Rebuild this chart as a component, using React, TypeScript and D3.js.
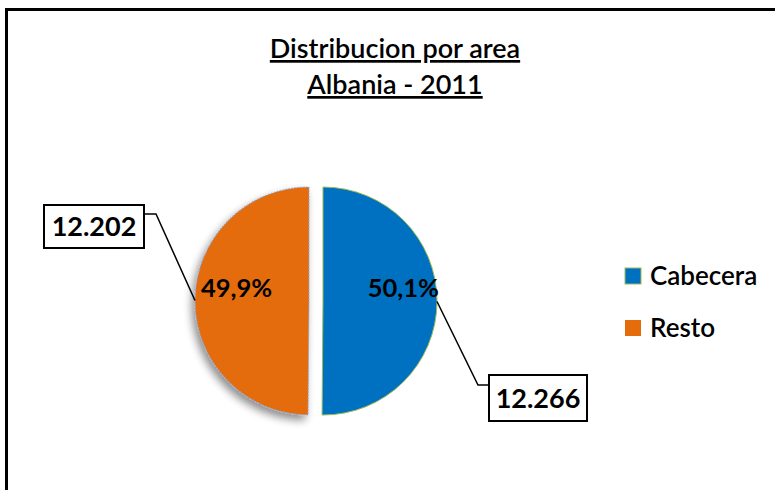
import React from "react";
import * as d3 from "d3";

const categories = ["Cabecera", "Resto"];
const values = [12266, 12202];
const valueLabels = ["12.266", "12.202"];
const colors = ["#0070C0", "#E46C0A"];
const titleLines = ["Distribucion por area", "Albania - 2011"];

const W = 775;
const H = 490;
const FONT = "Lato, 'Open Sans', sans-serif";

export default function App() {
  const cx = 316;
  const cy = 301;
  const r = 114;
  const explode = 7;
  const total = d3.sum(values);
  const pie = d3.pie<number>().sort(null).startAngle(0).endAngle(2 * Math.PI);
  const arcs = pie(values);
  const arcGen = d3.arc<d3.PieArcDatum<number>>().innerRadius(0).outerRadius(r);
  const fmtPct = (v: number) => (Math.round((v / total) * 1000) / 10).toFixed(1).replace(".", ",") + "%";

  const boxes = [
    { x: 489, y: 375, w: 98, h: 46, elbowX: 478, side: 1 },
    { x: 44, y: 205, w: 100, h: 43, elbowX: 156, side: -1 },
  ];

  return (
    <svg width={W} height={H} style={{ position: "absolute", left: 0, top: 0, display: "block" }}>
      <defs>
        <filter id="shadow" x="-30%" y="-30%" width="160%" height="160%">
          <feGaussianBlur in="SourceAlpha" stdDeviation="4" />
          <feOffset dx="-3" dy="5" result="b" />
          <feComponentTransfer>
            <feFuncA type="linear" slope="0.45" />
          </feComponentTransfer>
          <feMerge>
            <feMergeNode />
            <feMergeNode in="SourceGraphic" />
          </feMerge>
        </filter>
      </defs>
      <rect x={0} y={0} width={W} height={H} fill="#fff" />
      <rect x={6.5} y={9.5} width={W + 20} height={H + 20} fill="none" stroke="#000" strokeWidth={3} />

      {titleLines.map((t, i) => (
        <text
          key={t}
          x={395}
          y={58 + i * 36}
          textAnchor="middle"
          fontFamily={FONT}
          fontWeight={600}
          fontSize={27}
          textDecoration="underline"
          fill="#000"
        >
          {t}
        </text>
      ))}

      {arcs.map((a, i) => {
        const mid = (a.startAngle + a.endAngle) / 2;
        const ox = cx + Math.sin(mid) * explode;
        const oy = cy - Math.cos(mid) * explode;
        return (
          <g key={categories[i]} transform={`translate(${ox},${oy})`} filter={i === 1 ? "url(#shadow)" : undefined}>
            <path
              d={arcGen(a) || ""}
              fill={colors[i]}
              stroke={i === 0 ? "#9BBB59" : "#8EA9DB"}
              strokeWidth={i === 0 ? 1 : 1.2}
              strokeDasharray={i === 1 ? "1.5 1.5" : undefined}
            />
          </g>
        );
      })}

      {arcs.map((a, i) => {
        const mid = (a.startAngle + a.endAngle) / 2;
        const ox = cx + Math.sin(mid) * explode;
        const oy = cy - Math.cos(mid) * explode;
        const lr = r * 0.67;
        const lx = ox + Math.sin(mid) * lr;
        const ly = oy - Math.cos(mid) * lr;
        return (
          <text
            key={"p" + i}
            x={lx + 4}
            y={ly - 4}
            textAnchor="middle"
            fontFamily={FONT}
            fontWeight={700}
            fontSize={25.5}
            fill="#000"
          >
            {fmtPct(a.data)}
          </text>
        );
      })}

      {arcs.map((a, i) => {
        const b = boxes[i];
        const mid = (a.startAngle + a.endAngle) / 2;
        const ox = cx + Math.sin(mid) * explode;
        const oy = cy - Math.cos(mid) * explode;
        const px = ox + Math.sin(mid) * r;
        const py = oy - Math.cos(mid) * r;
        const attachX = b.side > 0 ? b.x : b.x + b.w;
        const attachY = b.side > 0 ? b.y + 10 : b.y + 9;
        return (
          <g key={"l" + i}>
            <polyline
              points={`${px},${py} ${b.elbowX},${attachY} ${attachX},${attachY}`}
              fill="none"
              stroke="#000"
              strokeWidth={1.5}
            />
            <rect x={b.x} y={b.y} width={b.w} height={b.h} fill="#fff" stroke="#000" strokeWidth={2} />
            <text
              x={b.x + b.w / 2}
              y={b.y + b.h / 2 + 9.5}
              textAnchor="middle"
              fontFamily={FONT}
              fontWeight={700}
              fontSize={27}
              fill="#000"
            >
              {valueLabels[i]}
            </text>
          </g>
        );
      })}

      {categories.map((c, i) => (
        <g key={c} transform={`translate(625,${268 + i * 52})`}>
          <rect x={0} y={0} width={16} height={16} fill={colors[i]} stroke={i === 0 ? "#9BBB59" : "none"} />
          <text x={25} y={16.5} fontFamily={FONT} fontWeight={600} fontSize={26} fill="#000">
            {c}
          </text>
        </g>
      ))}
    </svg>
  );
}
